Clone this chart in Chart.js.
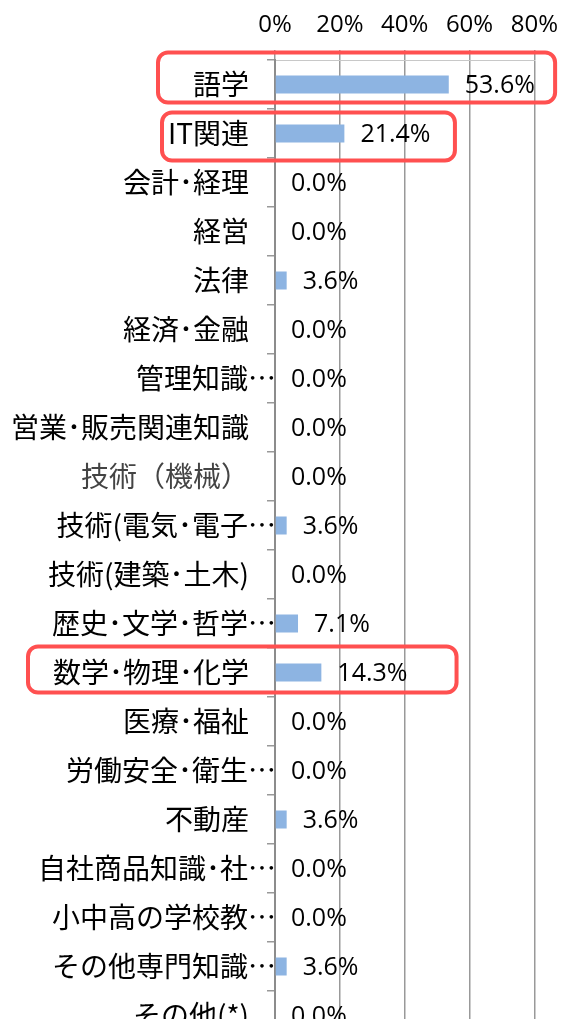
<!DOCTYPE html>
<html lang="ja">
<head>
<meta charset="utf-8">
<script src="https://cdn.jsdelivr.net/npm/chart.js@4/dist/chart.umd.min.js"></script>
<style>
  html, body { margin: 0; padding: 0; background: #fff; overflow: hidden; }
  canvas { display: block; }
</style>
</head>
<body>
<canvas id="skillChart" width="568" height="1050"></canvas>
<script>
// categories and shares (%)
const categories = [
  "語学", "IT関連", "会計･経理", "経営", "法律", "経済･金融", "管理知識…",
  "営業･販売関連知識", "技術（機械）", "技術(電気･電子…", "技術(建築･土木)",
  "歴史･文学･哲学…", "数学･物理･化学", "医療･福祉", "労働安全･衛生…",
  "不動産", "自社商品知識･社…", "小中高の学校教…", "その他専門知識…", "その他(*)"
];
const shares = [53.6, 21.4, 0.0, 0.0, 3.6, 0.0, 0.0, 0.0, 0.0, 3.6, 0.0, 7.1, 14.3, 0.0, 0.0, 3.6, 0.0, 0.0, 3.6, 0.0];
const xTicks = [0, 20, 40, 60, 80];
// rows circled in red
const circled = [0, 1, 12];

const latin = "'Open Sans', 'Noto Sans CJK JP', sans-serif";
const jp = "'Noto Sans CJK JP', sans-serif";
const isCut = (i) => categories[i].endsWith("…");

// value text after each bar
const valueLabels = {
  id: "valueLabels",
  afterDatasetsDraw(chart) {
    const ctx = chart.ctx;
    const meta = chart.getDatasetMeta(0);
    ctx.save();
    ctx.font = "25px " + latin;
    ctx.fillStyle = "#000";
    ctx.textAlign = "left";
    ctx.textBaseline = "middle";
    meta.data.forEach((bar, i) => {
      ctx.fillText(shares[i].toFixed(1) + "%", bar.x + 16, bar.y + 1);
    });
    ctx.restore();
  }
};

// truncated labels: the dots run on past the normal label edge, as Excel does
const cutLabels = {
  id: "cutLabels",
  afterDraw(chart) {
    const ctx = chart.ctx;
    const y = chart.scales.y;
    ctx.save();
    ctx.font = "28px " + jp;
    ctx.fillStyle = "#000";
    ctx.textAlign = "right";
    ctx.textBaseline = "middle";
    categories.forEach((c, i) => {
      if (isCut(i)) ctx.fillText(c, y.right + 1, y.getPixelForValue(i));
    });
    ctx.restore();
  }
};

// red rounded boxes around the highlighted rows
const redBoxes = {
  id: "redBoxes",
  afterDraw(chart) {
    const ctx = chart.ctx;
    const x = chart.scales.x;
    const y = chart.scales.y;
    const boxes = {
      0: { left: 158, right: 86.4, up: 32, down: 18 },
      1: { left: 162, right: 55.5, up: 21, down: 27 },
      12: { left: 28, right: 56, up: 26, down: 20 }
    };
    ctx.save();
    ctx.strokeStyle = "#ff5050";
    ctx.lineWidth = 4;
    circled.forEach((idx) => {
      const b = boxes[idx];
      const cy = y.getPixelForValue(idx);
      const l = b.left, r = x.getPixelForValue(b.right);
      const t = cy - b.up, btm = cy + b.down;
      ctx.beginPath();
      ctx.roundRect(l, t, r - l, btm - t, 10);
      ctx.stroke();
    });
    ctx.restore();
  }
};

new Chart(document.getElementById("skillChart").getContext("2d"), {
  type: "bar",
  data: {
    labels: categories,
    datasets: [
      {
        data: shares,
        backgroundColor: "#8db4e2",
        borderWidth: 0,
        barPercentage: 0.37,
        categoryPercentage: 1
      }
    ]
  },
  options: {
    indexAxis: "y",
    responsive: false,
    animation: false,
    layout: { padding: { left: 0, right: 29, top: 0, bottom: 10 } },
    scales: {
      x: {
        position: "top",
        min: 0,
        max: 80,
        afterFit: (s) => { s.height = 60; },
        afterBuildTicks: (s) => { s.ticks = xTicks.map((v) => ({ value: v })); },
        ticks: {
          callback: (v) => v + "%",
          font: { family: latin, size: 24 },
          color: "#000",
          padding: 10,
          maxRotation: 0
        },
        grid: { color: "#999", lineWidth: 1.5, tickLength: 10 },
        border: { display: true, color: "#c8c8c8", width: 1 }
      },
      y: {
        afterFit: (s) => {
          s.width = 275;
          s.paddingTop = 0;
          s.paddingBottom = 0;
        },
        ticks: {
          font: { family: jp, size: 28 },
          color: (c) => (isCut(c.index) ? "rgba(0,0,0,0)" : c.index === 8 ? "#444" : "#000"),
          padding: 18,
          autoSkip: false
        },
        grid: { offset: true, drawOnChartArea: false, color: "#999", lineWidth: 1.5, tickLength: 8 },
        border: { display: true, color: "#8c8c8c", width: 2 }
      }
    },
    plugins: {
      legend: { display: false },
      tooltip: { enabled: false }
    }
  },
  plugins: [valueLabels, cutLabels, redBoxes]
});
</script>
</body>
</html>
